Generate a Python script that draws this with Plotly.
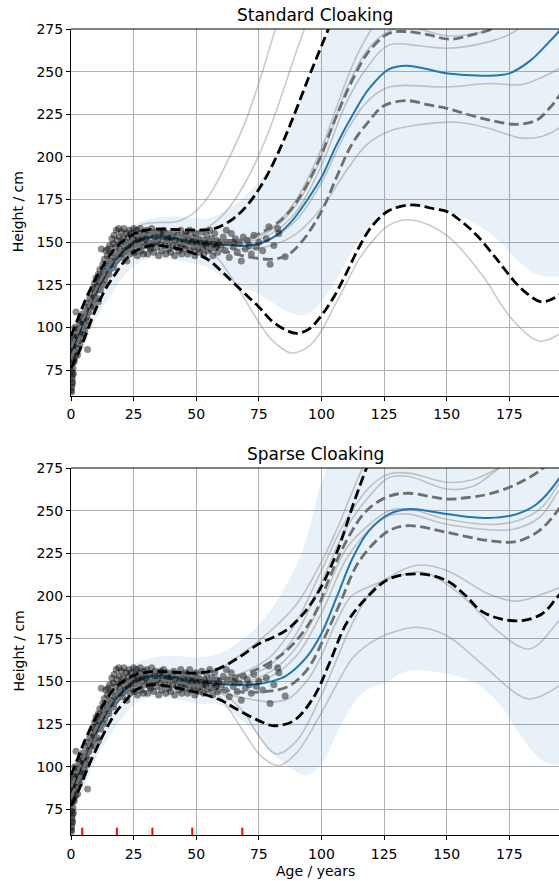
import plotly.graph_objects as go

# ---------------- scatter data (age / years, height / cm) ----------------
AGE = [
    0.2, 0.3, 0.5, 0.4, 0.6, 0.3, 0.8, 0.5, 1.0, 0.7,
    1.2, 0.9, 1.4, 1.1, 1.6, 0.4, 0.8, 1.3, 2.0, 1.8,
    1.5, 2.2, 2.5, 2.8, 3.0, 3.3, 3.6, 3.9, 4.2, 4.5,
    4.8, 5.1, 5.4, 5.7, 6.0, 6.3, 6.6, 6.9, 7.2, 7.5,
    7.8, 8.2, 8.5, 8.8, 9.1, 9.4, 9.7, 10.0, 10.3, 10.6,
    10.9, 11.2, 11.5, 11.8, 12.1, 12.4, 12.7, 13.0, 13.3, 13.6,
    13.9, 14.2, 14.5, 14.8, 15.1, 15.4, 15.7, 16.0, 16.3, 16.6,
    16.9, 17.2, 17.5, 17.8, 18.1, 18.4, 18.7, 19.0, 19.3, 19.6,
    19.9, 20.2, 20.5, 20.8, 21.1, 21.4, 21.7, 22.0, 22.3, 22.6,
    22.9, 23.2, 23.5, 23.8, 24.1, 24.4, 24.7, 25.0, 25.3, 25.6,
    25.9, 26.2, 26.5, 26.8, 27.1, 27.4, 27.7, 28.0, 28.3, 28.6,
    28.9, 29.2, 29.5, 29.8, 30.2, 30.6, 31.0, 31.4, 31.8, 32.2,
    32.6, 33.0, 33.4, 33.8, 34.2, 34.6, 35.0, 35.4, 35.8, 36.2,
    36.6, 37.0, 37.4, 37.8, 38.2, 38.6, 39.0, 39.4, 39.8, 40.2,
    40.6, 41.0, 41.4, 41.8, 42.2, 42.6, 43.0, 43.4, 43.8, 44.2,
    44.6, 45.0, 45.4, 45.8, 46.2, 46.6, 47.0, 47.4, 47.8, 48.2,
    48.6, 49.0, 49.4, 49.8, 50.2, 50.6, 51.0, 51.4, 51.8, 52.2,
    52.6, 53.0, 53.4, 53.8, 54.2, 54.6, 55.0, 55.4, 55.8, 56.2,
    56.6, 57.0, 57.4, 57.8, 58.2, 58.6, 59.0, 60.0, 60.8, 61.6,
    62.4, 63.2, 64.0, 64.8, 65.6, 66.4, 67.2, 68.0, 68.8, 69.6,
    70.4, 71.2, 72.0, 73.0, 74.0, 75.0, 76.5, 78.0, 79.5, 81.0,
    83.0, 79.0, 82.5, 85.5, 3.5, 5.0, 7.0, 9.0, 11.0, 13.0,
    27.0, 33.5, 39.0, 44.0, 49.5, 54.0, 58.0, 31.5, 36.0, 46.0,
    0.1, 0.6, 1.0, 2.6, 4.0, 17.0, 20.0, 23.0, 62.0, 65.0,
]
HEIGHT = [
    62, 65, 67, 70, 72, 74, 76, 79, 81, 84,
    86, 89, 91, 94, 97, 88, 93, 80, 109, 83,
    100, 88, 95, 99, 92, 103, 97, 106, 100, 94,
    108, 103, 98, 112, 106, 101, 87, 114, 109, 117,
    112, 120, 115, 123, 118, 126, 121, 129, 124, 117,
    131, 127, 134, 122, 146, 130, 137, 133, 140, 128,
    145, 136, 142, 146, 131, 148, 139, 144, 152, 137,
    149, 154, 141, 147, 157, 151, 143, 158, 153, 146,
    149, 156, 141, 152, 158, 145, 150, 155, 139, 147,
    153, 157, 143, 150, 155, 146, 152, 158, 144, 149,
    154, 157, 142, 151, 147, 155, 158, 145, 150, 153,
    143, 156, 148, 152, 157, 143, 150, 154, 146, 158,
    149, 144, 153, 156, 147, 151, 142, 155, 149, 145,
    153, 157, 148, 143, 151, 155, 146, 150, 144, 153,
    148, 156, 142, 151, 147, 154, 145, 150, 157, 143,
    149, 152, 146, 155, 148, 143, 151, 157, 145, 150,
    153, 147, 142, 155, 149, 146, 152, 144, 150, 156,
    147, 143, 151, 148, 154, 145, 150, 157, 146, 152,
    142, 149, 155, 147, 151, 144, 150, 148, 153, 145,
    150, 141, 155, 147, 152, 144, 149, 139, 153, 146,
    151, 148, 143, 154, 147, 150, 145, 152, 137, 148,
    155, 159, 158, 141.5, 90, 96, 104, 112, 115, 125,
    152, 150, 152, 148, 151, 149, 147, 147, 156, 154,
    63, 68, 73, 84, 104, 135, 143, 148, 157, 150,
]

# inducing point locations (red ticks, sparse model)
INDUCING_AGE = [4.5, 18.3, 32.5, 48.4, 68.4]

X_TICKS = [0, 25, 50, 75, 100, 125, 150, 175]
Y_TICKS = [75, 100, 125, 150, 175, 200, 225, 250, 275]
TITLES = ["Standard Cloaking", "Sparse Cloaking"]

# ---------------- Standard cloaking curves ----------------
STD_MEAN_X = [0, 3, 6, 10, 14, 18, 22, 26, 32, 40, 50, 60, 70, 76, 82, 88, 94, 100, 106, 113, 119, 127, 134, 142, 150, 158, 165, 175, 183, 190, 195, 200]
STD_MEAN_Y = [85, 95, 106, 120, 131, 139.5, 146, 150.5, 153, 152.5, 150, 148.5, 148, 149.5, 154, 162, 174, 188, 207, 226, 240, 251.5, 253.5, 251.5, 249, 248, 247.6, 249, 256, 266, 274, 285]

STD_UB_X = [0, 3, 6, 10, 14, 18, 22, 26, 32, 40, 50, 56, 60, 65, 70, 75, 80, 85, 90, 95, 100, 105, 110]
STD_UB_Y = [95, 106, 117, 129, 139, 147, 152, 155.5, 157.5, 157.5, 157, 157.5, 159.5, 164, 171, 181, 194, 210, 228, 247, 265, 283, 300]

STD_LB_X = [0, 3, 6, 10, 14, 18, 22, 26, 32, 40, 50, 55, 60, 65, 70, 75, 80, 85, 90, 95, 100, 105, 110, 115, 120, 127, 136, 145, 150, 156, 162, 170, 177, 182, 188, 195, 200]
STD_LB_Y = [76, 85, 96, 111, 123, 132, 140, 145, 148, 147, 143, 139.5, 133, 126, 119, 112, 104, 99, 96.5, 99, 107, 118, 132, 147, 159, 168.5, 171.8, 169.5, 168, 162, 154, 140, 127, 120, 115, 119, 125]

STD_UG_X = [0, 6, 10, 18, 26, 32, 40, 50, 60, 70, 80, 86, 92, 99, 106, 113, 119, 127, 134, 143, 151, 160, 170, 180]
STD_UG_Y = [88, 109, 122.5, 142, 153, 155.5, 155, 152.5, 151, 152, 159, 166, 178, 198, 224, 247, 262, 272.5, 273.5, 271.5, 269, 271.5, 276, 285]

STD_LG_X = [0, 6, 10, 18, 26, 32, 40, 50, 60, 66, 72, 80, 86, 92, 100, 106, 112, 119, 125, 134, 143, 150, 157, 167, 178, 186, 191, 195, 200]
STD_LG_Y = [82, 103, 117.5, 137, 148, 150.5, 150, 147.5, 145, 143, 141, 140, 142, 150, 168, 188, 207, 221, 230, 233, 230.5, 228.5, 225.5, 221.6, 219.1, 221.6, 228.5, 236, 248]

STD_BAND_UP_X = [0, 5, 10, 15, 20, 25, 30, 40, 50, 55, 60, 65, 70, 80, 90, 100, 105, 110, 120, 130, 140, 150, 160, 170, 180, 190, 200]
STD_BAND_UP_Y = [100, 115, 128, 140, 152, 160, 163, 165, 164, 164, 167, 172, 178, 195, 228, 262, 282, 300, 330, 350, 360, 370, 380, 390, 400, 410, 420]
STD_BAND_LO_X = [0, 5, 10, 15, 20, 25, 30, 40, 50, 55, 60, 66, 73, 80, 86, 94, 103, 112, 120, 127, 136, 150, 160, 170, 178, 186, 195, 200]
STD_BAND_LO_Y = [70, 87, 105, 117, 128, 136, 140, 140, 137, 135, 130, 125, 121, 115, 109.5, 107.5, 121, 144, 160, 168, 171, 168, 162, 152, 140, 131, 130, 132]

STD_S1_X = [0, 10, 20, 28, 35, 42, 48, 55, 62, 70, 76, 81, 86]
STD_S1_Y = [88, 124, 150, 160, 161.5, 162, 166, 177, 196, 222, 248, 272, 295]
STD_S2_X = [0, 10, 20, 30, 40, 50, 55, 60, 65, 70, 75, 80, 85, 90, 95]
STD_S2_Y = [86, 121, 146, 153, 154, 156, 159, 165, 174, 186, 201, 219, 240, 262, 282]
STD_S3_X = [0, 10, 20, 30, 40, 50, 60, 70, 80, 90, 100, 105, 110, 115, 120, 126]
STD_S3_Y = [84, 120, 145, 152, 152, 151, 150, 152, 158, 175, 205, 225, 245, 262, 275, 288]
STD_S4_X = [0, 10, 20, 30, 40, 50, 60, 70, 80, 90, 100, 110, 118, 127, 135, 150, 160, 170, 180]
STD_S4_Y = [86, 121, 144, 153, 153, 150, 150, 151, 157, 172, 200, 240, 262, 274, 276, 271, 272, 276, 285]
STD_S5_X = [0, 10, 20, 30, 40, 50, 60, 70, 80, 90, 100, 110, 118, 127, 140, 150, 167, 178, 186]
STD_S5_Y = [85, 120, 145, 153, 152, 150, 149, 150, 155, 168, 195, 232, 252, 265.6, 265, 263.7, 267.6, 274.4, 288]
STD_S6_X = [0, 10, 20, 30, 40, 50, 60, 70, 80, 90, 100, 110, 118, 127, 150, 167, 180, 190, 195, 200]
STD_S6_Y = [84, 119, 144, 152, 152, 149, 148, 148, 152, 163, 185, 215, 232, 241, 241, 243, 242.5, 248, 252, 258]
STD_S7_X = [0, 10, 20, 30, 40, 50, 60, 70, 80, 90, 100, 110, 118, 127, 138, 154, 167, 180, 188, 195, 200]
STD_S7_Y = [85, 120, 144, 152, 151, 149, 147, 146, 148, 155, 170, 192, 207, 215, 218.7, 220.3, 216.7, 211, 212, 217, 224]
STD_S8_X = [0, 10, 20, 30, 40, 50, 55, 59, 65, 70, 75, 80, 88, 95, 100, 105, 110, 115, 120, 127, 136, 150, 164, 176, 187, 195, 200]
STD_S8_Y = [83, 119, 143, 152, 152, 148, 145, 140, 127, 115, 103, 93, 85, 89, 98, 112, 126, 140, 150, 160, 163, 154, 131, 105, 92, 96, 102]

# ---------------- Sparse cloaking curves ----------------
SP_MEAN_X = [0, 3, 6, 10, 14, 18, 22, 26, 32, 40, 50, 59, 67, 75, 80, 86, 94, 100, 106, 112.6, 119, 127, 135, 142, 150, 158, 167, 178, 186, 194, 200]
SP_MEAN_Y = [85, 95, 106, 120, 131, 139.5, 146, 150.5, 153, 152.5, 150, 148.5, 148, 148.5, 150, 153.4, 164, 178, 199, 222.7, 238.3, 248, 251, 250, 248, 246.5, 245.7, 248, 253.9, 267, 282]

SP_UB_X = [0, 3, 6, 10, 14, 18, 22, 26, 32, 40, 51, 59, 67, 75, 81, 86, 93, 99, 106, 113, 118, 123]
SP_UB_Y = [95, 106, 117, 129, 139, 147, 151, 154, 155.7, 155.5, 155, 157.5, 164, 172, 176, 180, 190, 203, 225, 255, 275, 292]

SP_LB_X = [0, 3, 6, 10, 14, 18, 22, 26, 32, 46, 59, 67, 75, 81, 89, 97, 103, 110, 118, 127, 139, 150, 157, 164, 172, 180, 188, 194, 200]
SP_LB_Y = [77, 86, 97, 110, 122, 132, 139, 145, 148, 145, 139.5, 133, 127, 124, 127, 141, 160, 184, 199, 210, 213, 209, 201, 191, 186.5, 185.6, 189.5, 199, 210]

SP_UG_X = [0, 6, 10, 18, 26, 32, 40, 50, 60, 73, 86, 96.6, 103.3, 110, 118, 127, 135, 150, 160, 167, 178, 188, 195]
SP_UG_Y = [88, 109, 122.5, 142, 153, 155.5, 155, 152.5, 151.5, 156.3, 168, 187.5, 211, 232.4, 250, 258.5, 260.2, 256.8, 258, 259.8, 265.6, 274.4, 285]

SP_LG_X = [0, 6, 10, 18, 26, 32, 40, 50, 60, 73, 86, 94, 100.6, 107.3, 115.2, 127, 135, 150, 167, 178, 187, 194.3, 200]
SP_LG_Y = [82, 103, 117.5, 137, 148, 150.5, 150, 147.5, 145, 143.6, 146.6, 156.3, 173.9, 195.4, 220.7, 238.3, 241.2, 237.3, 232.4, 232, 238.3, 250, 262]

SP_BAND_UP_X = [0, 5, 10, 15, 20, 25, 30, 40, 50, 59, 66, 73, 83, 93, 99, 102, 106, 110, 130, 150, 170, 200]
SP_BAND_UP_Y = [100, 115, 128, 140, 152, 160, 163, 165, 164, 166, 172, 180, 199, 229, 262, 275, 300, 320, 350, 360, 370, 400]
SP_BAND_LO_X = [0, 5, 10, 15, 20, 25, 30, 40, 50, 59, 66, 73, 79, 87, 94, 100, 108, 116, 127, 134, 150, 162, 171, 180, 188, 195, 200]
SP_BAND_LO_Y = [70, 87, 105, 117, 128, 136, 140, 140, 137, 136.5, 130, 121, 110, 100, 95, 101.6, 125, 142.6, 150.5, 156, 154.4, 148.5, 137, 117, 103.6, 100.7, 101]

SP_S1_X = [0, 10, 20, 30, 40, 50, 55, 60, 70, 80, 90, 100, 107, 112, 117, 122]
SP_S1_Y = [87, 123, 148, 155, 155, 155, 155, 158, 168, 180, 195, 220, 242, 260, 277, 292]
SP_S2_X = [0, 10, 20, 30, 40, 50, 60, 70, 80, 90, 100, 110, 120, 127, 135, 150, 160, 170, 178]
SP_S2_Y = [86, 121, 146, 154, 153, 152, 152, 156, 165, 185, 215, 245, 265, 271.5, 272, 266.6, 268, 274.4, 282]
SP_S3_X = [0, 10, 20, 30, 40, 50, 60, 70, 80, 90, 100, 110, 120, 127, 135, 150, 160, 168, 175]
SP_S3_Y = [85, 120, 145, 153, 153, 151, 151, 153, 160, 178, 208, 240, 260, 269.5, 270, 262.7, 264, 271.5, 280]
SP_S4_X = [0, 10, 20, 30, 40, 50, 60, 70, 80, 90, 100, 110, 120, 127, 135, 150, 170, 180, 188, 194, 200]
SP_S4_Y = [85, 120, 145, 153, 152, 150, 150, 150, 156, 170, 196, 228, 243, 250, 251, 245, 242, 245, 252, 264, 278]
SP_S5_X = [0, 10, 20, 30, 40, 50, 60, 70, 80, 90, 100, 110, 120, 127, 135, 150, 176, 187, 194, 200]
SP_S5_Y = [84, 119, 144, 152, 152, 149, 148, 149, 153, 165, 190, 222, 240, 247, 248, 242, 239, 246, 260, 272]
SP_S6_X = [0, 10, 20, 30, 40, 50, 55, 60, 65, 70, 75, 82, 90, 100, 112, 120, 127, 138, 150, 167, 178, 188, 195, 200]
SP_S6_Y = [84, 119, 143, 152, 151, 148, 146, 143, 138, 130, 118, 107.5, 115, 142, 183, 203, 211, 218, 215, 201, 197, 201, 205, 210]
SP_S7_X = [0, 10, 20, 30, 40, 50, 59, 70, 80, 87, 95, 100, 106, 112, 120, 127, 140, 150, 160, 170, 183, 194, 200]
SP_S7_Y = [85, 120, 144, 152, 151, 148, 144, 140, 138, 140, 152, 165, 185, 200, 206, 210, 214, 207, 195, 180, 169, 184, 195]
SP_S8_X = [0, 10, 20, 30, 40, 50, 55, 60, 70, 76, 83, 90, 99, 106, 112.6, 120, 127, 138, 150, 164, 178, 183, 194, 200]
SP_S8_Y = [84, 119, 143, 151, 150, 147, 146, 140, 118, 106, 100.7, 108, 129, 148, 164, 173, 178, 181.7, 176.8, 160.2, 142.6, 139.7, 146.5, 155]

# ---------------- figure ----------------
W, H = 559, 881
ML, MR, MT, MB = 71, 0, 29, 46
PH = H - MT - MB
X_RANGE = [0, (W - ML) / 2.5046]
Y_RANGE = [60, 275]


def py_to_paper(py):
    return (H - MB - py) / PH


TOP_DOM = [py_to_paper(395.6), 1.0]
BOT_DOM = [0.0, py_to_paper(468)]

BLUE = "#1f77b4"
SAMPLE = "rgba(128,128,128,0.42)"
GRAYDASH = "#6e6e6e"
DASH = "10px,4.5px"

fig = go.Figure()


def add_line(x, y, axes, color, width, dash="solid"):
    fig.add_trace(go.Scatter(
        x=x, y=y, mode="lines", xaxis=axes[0], yaxis=axes[1],
        line=dict(color=color, width=width, dash=dash, shape="spline", smoothing=1.0),
        hoverinfo="skip", showlegend=False))


def add_panel(axes, band_lo, band_up, samples, mean, ug, lg, ub, lb):
    fig.add_trace(go.Scatter(
        x=band_lo[0], y=band_lo[1], mode="lines", xaxis=axes[0], yaxis=axes[1],
        line=dict(width=0, shape="spline"), hoverinfo="skip", showlegend=False))
    fig.add_trace(go.Scatter(
        x=band_up[0], y=band_up[1], mode="lines", xaxis=axes[0], yaxis=axes[1],
        line=dict(width=0, shape="spline"), fill="tonexty",
        fillcolor="rgba(31,119,180,0.1)", hoverinfo="skip", showlegend=False))
    for sx, sy in samples:
        add_line(sx, sy, axes, SAMPLE, 1.6)
    add_line(mean[0], mean[1], axes, BLUE, 2.0)
    fig.add_trace(go.Scatter(
        x=AGE, y=HEIGHT, mode="markers", xaxis=axes[0], yaxis=axes[1],
        marker=dict(color="rgba(0,0,0,0.45)", size=7, line=dict(width=0)),
        hoverinfo="skip", showlegend=False))
    add_line(ug[0], ug[1], axes, GRAYDASH, 2.8, DASH)
    add_line(lg[0], lg[1], axes, GRAYDASH, 2.8, DASH)
    add_line(ub[0], ub[1], axes, "black", 2.8, DASH)
    add_line(lb[0], lb[1], axes, "black", 2.8, DASH)


add_panel(("x", "y"),
          (STD_BAND_LO_X, STD_BAND_LO_Y), (STD_BAND_UP_X, STD_BAND_UP_Y),
          [(STD_S1_X, STD_S1_Y), (STD_S2_X, STD_S2_Y), (STD_S3_X, STD_S3_Y), (STD_S4_X, STD_S4_Y),
           (STD_S5_X, STD_S5_Y), (STD_S6_X, STD_S6_Y), (STD_S7_X, STD_S7_Y), (STD_S8_X, STD_S8_Y)],
          (STD_MEAN_X, STD_MEAN_Y), (STD_UG_X, STD_UG_Y), (STD_LG_X, STD_LG_Y),
          (STD_UB_X, STD_UB_Y), (STD_LB_X, STD_LB_Y))

add_panel(("x2", "y2"),
          (SP_BAND_LO_X, SP_BAND_LO_Y), (SP_BAND_UP_X, SP_BAND_UP_Y),
          [(SP_S1_X, SP_S1_Y), (SP_S2_X, SP_S2_Y), (SP_S3_X, SP_S3_Y), (SP_S4_X, SP_S4_Y),
           (SP_S5_X, SP_S5_Y), (SP_S6_X, SP_S6_Y), (SP_S7_X, SP_S7_Y), (SP_S8_X, SP_S8_Y)],
          (SP_MEAN_X, SP_MEAN_Y), (SP_UG_X, SP_UG_Y), (SP_LG_X, SP_LG_Y),
          (SP_UB_X, SP_UB_Y), (SP_LB_X, SP_LB_Y))

# red inducing-point ticks on the sparse panel
tick_x, tick_y = [], []
for a in INDUCING_AGE:
    tick_x += [a, a, None]
    tick_y += [Y_RANGE[0], Y_RANGE[0] + 4.3, None]
fig.add_trace(go.Scatter(x=tick_x, y=tick_y, mode="lines", xaxis="x2", yaxis="y2",
                         line=dict(color="red", width=2), hoverinfo="skip", showlegend=False))

FONT = "DejaVu Sans"
common_x = dict(range=X_RANGE, tickvals=X_TICKS, showgrid=True, gridcolor="#b0b0b0", gridwidth=1,
                showline=True, linecolor="black", linewidth=1, ticks="outside", ticklen=4,
                tickcolor="black", tickwidth=1, zeroline=False, ticklabelstandoff=2,
                tickfont=dict(size=14, color="black"))
common_y = dict(range=Y_RANGE, tickvals=Y_TICKS, showgrid=True, gridcolor="#b0b0b0", gridwidth=1,
                showline=True, linecolor="black", linewidth=1, ticks="outside", ticklen=4,
                tickcolor="black", tickwidth=1, zeroline=False, tickfont=dict(size=14, color="black"))

fig.update_layout(
    width=W, height=H,
    margin=dict(l=ML, r=MR, t=MT, b=MB),
    paper_bgcolor="white", plot_bgcolor="white",
    font=dict(family=FONT, color="black"),
    showlegend=False,
    xaxis=dict(domain=[0, 1], anchor="y", **common_x),
    yaxis=dict(domain=TOP_DOM, anchor="x", **common_y),
    xaxis2=dict(domain=[0, 1], anchor="y2", **common_x),
    yaxis2=dict(domain=BOT_DOM, anchor="x2", **common_y),
)

# top spines
for xr, yr in (("x domain", "y domain"), ("x2 domain", "y2 domain")):
    fig.add_shape(type="line", xref=xr, yref=yr, x0=0, x1=1, y0=1, y1=1,
                  line=dict(color="black", width=1))

annotations = [
    dict(text=TITLES[0], x=0.5, y=py_to_paper(15), xref="paper", yref="paper",
         xanchor="center", yanchor="middle", showarrow=False, font=dict(size=17)),
    dict(text=TITLES[1], x=0.5, y=py_to_paper(454), xref="paper", yref="paper",
         xanchor="center", yanchor="middle", showarrow=False, font=dict(size=17)),
    dict(text="Height / cm", x=(18 - ML) / (W - ML - MR), y=py_to_paper(212.3), xref="paper", yref="paper",
         xanchor="center", yanchor="middle", textangle=-90, showarrow=False, font=dict(size=14)),
    dict(text="Height / cm", x=(18 - ML) / (W - ML - MR), y=py_to_paper(651.5), xref="paper", yref="paper",
         xanchor="center", yanchor="middle", textangle=-90, showarrow=False, font=dict(size=14)),
    dict(text="Age / years", x=0.5, y=py_to_paper(871), xref="paper", yref="paper",
         xanchor="center", yanchor="middle", showarrow=False, font=dict(size=14)),
]
fig.update_layout(annotations=annotations)

fig.write_html("out.html", config={"displayModeBar": False},
               post_script="document.body.style.margin='0px';document.body.style.overflow='hidden';")
